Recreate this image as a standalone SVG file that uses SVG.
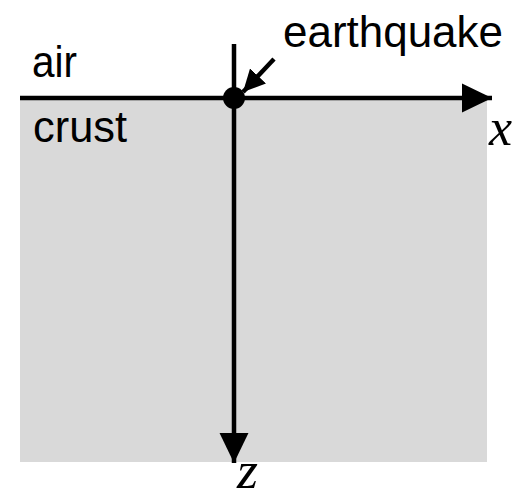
<svg xmlns="http://www.w3.org/2000/svg" width="531" height="500" viewBox="0 0 531 500">
<style>
.lbl{font-family:"Liberation Sans",Arial,sans-serif;fill:#000;}
.var{font-family:"Liberation Serif","Times New Roman",serif;font-style:italic;fill:#000;font-size:52px;}
.ax{stroke:#000;stroke-width:4.5;fill:none;}
</style>
<defs>
<marker id="big" markerUnits="userSpaceOnUse" markerWidth="30" markerHeight="30" viewBox="0 0 28 27" refX="28" refY="13.5" orient="auto">
<path d="M0,0 L28,13.5 L0,27 Z" fill="#000"/>
</marker>
<marker id="small" markerUnits="userSpaceOnUse" markerWidth="22" markerHeight="22" viewBox="0 0 20 20" refX="20" refY="10" orient="auto">
<path d="M0,0 L20,10 L0,20 Z" fill="#000"/>
</marker>
</defs>
<g id="crust">
<rect x="20" y="98" width="467" height="364" fill="#d9d9d9"/>
<text class="lbl" x="33" y="142" font-size="44" textLength="94" lengthAdjust="spacingAndGlyphs">crust</text>
</g>
<g id="air">
<text class="lbl" x="32" y="77" font-size="44" textLength="45" lengthAdjust="spacingAndGlyphs">air</text>
</g>
<g id="connectors">
<line class="ax" x1="20" y1="98" x2="492" y2="98" marker-end="url(#big)"/>
<line class="ax" x1="234" y1="44" x2="234" y2="463" marker-end="url(#big)"/>
<line class="ax" x1="274" y1="59" x2="243" y2="92" marker-end="url(#small)"/>
</g>
<g id="earthquake">
<circle cx="234" cy="98" r="11" fill="#000"/>
<text class="lbl" x="283" y="47" font-size="44" textLength="220" lengthAdjust="spacingAndGlyphs">earthquake</text>
</g>
<g id="x-label"><text class="var" x="489" y="145">x</text></g>
<g id="z-label"><text class="var" x="237" y="488" font-size="46" textLength="21" lengthAdjust="spacingAndGlyphs">z</text></g>
</svg>
